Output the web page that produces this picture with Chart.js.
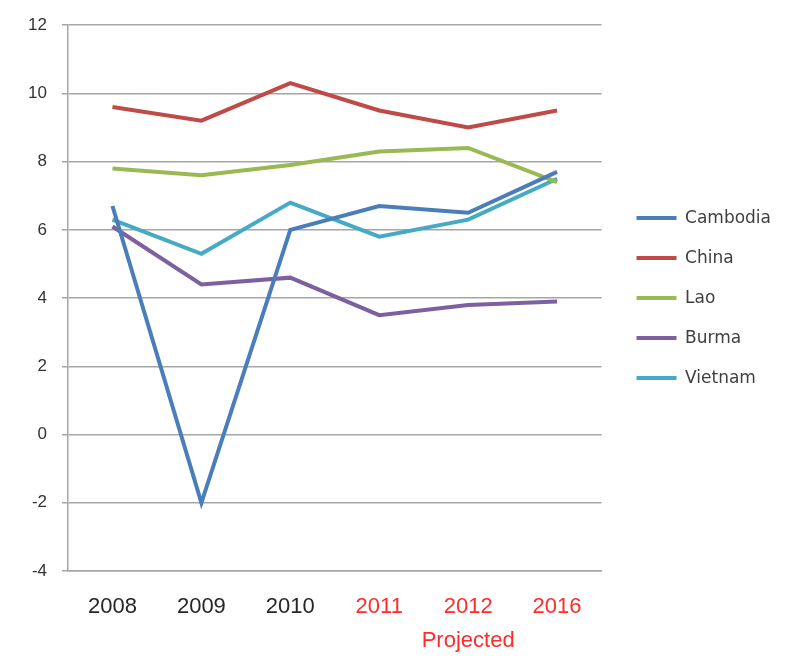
<!DOCTYPE html>
<html>
<head>
<meta charset="utf-8">
<script src="https://cdn.jsdelivr.net/npm/chart.js@4"></script>
<style>
  html, body { margin: 0; padding: 0; background: #ffffff; }
  #wrap { width: 800px; height: 669px; }
</style>
</head>
<body>
<div id="wrap"><canvas id="c" width="800" height="669"></canvas></div>
<script>
const categories = ['2008', '2009', '2010', '2011', '2012', '2016'];
const projectedNote = 'Projected';
const projectedFromIndex = 3;

const cambodia = [6.7, -2.0, 6.0, 6.7, 6.5, 7.7];
const china    = [9.6, 9.2, 10.3, 9.5, 9.0, 9.5];
const lao      = [7.8, 7.6, 7.9, 8.3, 8.4, 7.4];
const burma    = [6.1, 4.4, 4.6, 3.5, 3.8, 3.9];
const vietnam  = [6.3, 5.3, 6.8, 5.8, 6.3, 7.5];

const yTicks = [-4, -2, 0, 2, 4, 6, 8, 10, 12];

const seriesNames = ['Cambodia', 'China', 'Lao', 'Burma', 'Vietnam'];
const seriesValues = [cambodia, china, lao, burma, vietnam];
const seriesColors = ['#4a7ebb', '#be4b48', '#98b954', '#7d60a0', '#46aac5'];

const datasets = seriesNames.map((name, i) => ({
  label: name,
  data: seriesValues[i],
  borderColor: seriesColors[i],
  backgroundColor: seriesColors[i],
  borderWidth: 4,
  pointRadius: 0,
  pointHoverRadius: 0,
  tension: 0,
  fill: false,
  yAxisID: 'y'
}));

new Chart(document.getElementById('c'), {
  type: 'line',
  data: { labels: categories, datasets },
  options: {
    responsive: false,
    animation: false,
    layout: { padding: { left: 0, top: 25, right: 19, bottom: 0 } },
    plugins: {
      tooltip: { enabled: false },
      legend: {
        position: 'right',
        fullSize: false,
        maxWidth: 220,
        labels: {
          usePointStyle: true,
          pointStyle: 'line',
          pointStyleWidth: 40,
          padding: 23,
          color: '#404040',
          font: { family: 'DejaVu Sans', size: 17 }
        }
      }
    },
    scales: {
      x: {
        offset: true,
        grid: { display: false, drawTicks: false },
        border: { display: true, color: '#a6a6a6', width: 1.5 },
        afterFit: (scale) => { scale.height = 98; },
        ticks: {
          padding: 19,
          maxRotation: 0,
          autoSkip: false,
          font: { family: 'Liberation Sans', size: 22, lineHeight: 1.55 },
          color: (ctx) => ctx.index >= projectedFromIndex ? '#ff2a2a' : '#262626',
          callback: function (value, index) {
            const lab = this.getLabelForValue(value);
            return index === 4 ? [lab, projectedNote] : lab;
          }
        }
      },
      y: {
        position: 'left',
        min: yTicks[0],
        max: yTicks[yTicks.length - 1],
        afterBuildTicks: (scale) => { scale.ticks = yTicks.map(v => ({ value: v })); },
        afterFit: (scale) => { scale.width = 68; },
        grid: { color: '#a6a6a6', lineWidth: 1.5, tickLength: 6, drawTicks: true },
        border: { display: true, color: '#a6a6a6', width: 1.5 },
        ticks: {
          padding: 15,
          color: '#333333',
          font: { family: 'Liberation Sans', size: 17 }
        }
      },
      yR: {
        position: 'right',
        display: true,
        grid: { display: false, drawTicks: false },
        border: { display: false },
        ticks: { display: false },
        afterFit: (scale) => { scale.width = 12; }
      }
    }
  }
});
</script>
</body>
</html>
